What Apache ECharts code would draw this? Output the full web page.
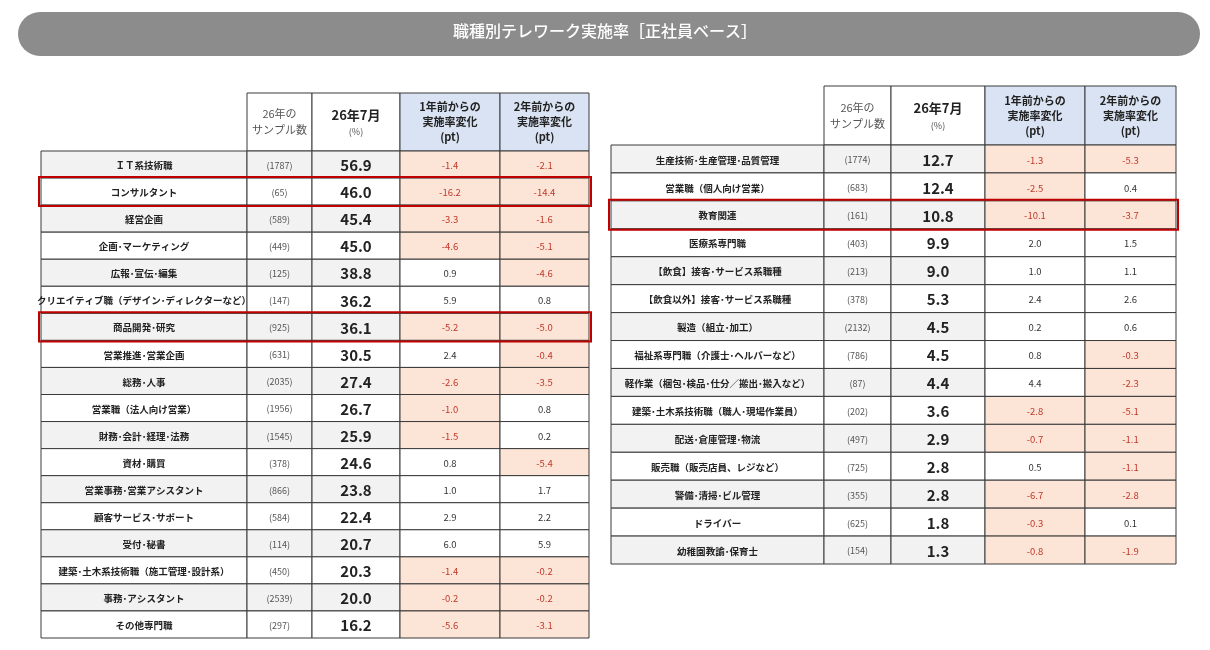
<!DOCTYPE html>
<html>
<head>
<meta charset="utf-8">
<script src="https://cdn.jsdelivr.net/npm/echarts@6.0.0/dist/echarts.min.js"></script>
<style>
html, body { margin: 0; padding: 0; background: #fff; }
#chart { width: 1210px; height: 650px; }
</style>
</head>
<body>
<div id="chart"></div>
<script>
const titleText = '職種別テレワーク実施率［正社員ベース］'
const headerLabels = ['', '26年の\nサンプル数', '26年7月', '1年前からの\n実施率変化\n(pt)', '2年前からの\n実施率変化\n(pt)']

const leftNames = ['ＩＴ系技術職', 'コンサルタント', '経営企画', '企画・マーケティング', '広報・宣伝・編集',
    'クリエイティブ職（デザイン・ディレクターなど）', '商品開発・研究', '営業推進・営業企画', '総務・人事',
    '営業職（法人向け営業）', '財務・会計・経理・法務', '資材・購買', '営業事務・営業アシスタント',
    '顧客サービス・サポート', '受付・秘書', '建築・土木系技術職（施工管理・設計系）', '事務・アシスタント', 'その他専門職']
const leftSamples = [1787, 65, 589, 449, 125, 147, 925, 631, 2035, 1956, 1545, 378, 866, 584, 114, 450, 2539, 297]
const leftRates = [56.9, 46.0, 45.4, 45.0, 38.8, 36.2, 36.1, 30.5, 27.4, 26.7, 25.9, 24.6, 23.8, 22.4, 20.7, 20.3, 20.0, 16.2]
const leftChange1 = [-1.4, -16.2, -3.3, -4.6, 0.9, 5.9, -5.2, 2.4, -2.6, -1.0, -1.5, 0.8, 1.0, 2.9, 6.0, -1.4, -0.2, -5.6]
const leftChange2 = [-2.1, -14.4, -1.6, -5.1, -4.6, 0.8, -5.0, -0.4, -3.5, 0.8, 0.2, -5.4, 1.7, 2.2, 5.9, -0.2, -0.2, -3.1]
const leftHighlight = [1, 6]

const rightNames = ['生産技術・生産管理・品質管理', '営業職（個人向け営業）', '教育関連', '医療系専門職',
    '【飲食】接客・サービス系職種', '【飲食以外】接客・サービス系職種', '製造（組立・加工）',
    '福祉系専門職（介護士・ヘルパーなど）', '軽作業（梱包・検品・仕分／搬出・搬入など）',
    '建築・土木系技術職（職人・現場作業員）', '配送・倉庫管理・物流', '販売職（販売店員、レジなど）',
    '警備・清掃・ビル管理', 'ドライバー', '幼稚園教諭・保育士']
const rightSamples = [1774, 683, 161, 403, 213, 378, 2132, 786, 87, 202, 497, 725, 355, 625, 154]
const rightRates = [12.7, 12.4, 10.8, 9.9, 9.0, 5.3, 4.5, 4.5, 4.4, 3.6, 2.9, 2.8, 2.8, 1.8, 1.3]
const rightChange1 = [-1.3, -2.5, -10.1, 2.0, 1.0, 2.4, 0.2, 0.8, 4.4, -2.8, -0.7, 0.5, -6.7, -0.3, -0.8]
const rightChange2 = [-5.3, 0.4, -3.7, 1.5, 1.1, 2.6, 0.6, -0.3, -2.3, -5.1, -1.1, -1.1, -2.8, 0.1, -1.9]
const rightHighlight = [2]

const FONT = '"Noto Sans CJK JP", sans-serif'
const BORDER = '#3a3a3a'

let chartDom = document.getElementById('chart')
let myChart = echarts.init(chartDom)

// table layouts (pixels), column edges relative to table left
const tables = [
    {left: 41, headTop: 93, headH: 58, bodyH: 487, edges: [0, 206, 271, 359, 459, 548],
        names: leftNames, samples: leftSamples, rates: leftRates, c1: leftChange1, c2: leftChange2, hl: leftHighlight},
    {left: 611, headTop: 86, headH: 59, bodyH: 419, edges: [0, 213, 280, 374, 474, 565],
        names: rightNames, samples: rightSamples, rates: rightRates, c1: rightChange1, c2: rightChange2, hl: rightHighlight}
]

let grids = [], xAxes = [], yAxes = [], series = []

tables.forEach((t, ti) => {
    let w = t.edges[t.edges.length - 1]
    let n = t.names.length
    grids.push({left: t.left, top: t.headTop, width: w, height: t.headH})
    grids.push({left: t.left, top: t.headTop + t.headH, width: w, height: t.bodyH})
    for (let g = 0; g < 2; g++) {
        xAxes.push({type: 'value', gridIndex: ti * 2 + g, min: 0, max: w, show: false})
        yAxes.push({type: 'category', gridIndex: ti * 2 + g, inverse: true, show: false,
            data: g === 0 ? ['h'] : t.names.map((_, i) => i)})
    }
    let edges = t.edges

    // header
    series.push({
        type: 'custom', xAxisIndex: ti * 2, yAxisIndex: ti * 2, silent: true,
        data: [[1, 0], [2, 0], [3, 0], [4, 0]],
        renderItem: function (params, api) {
            let col = api.value(0)
            let p0 = api.coord([edges[col], 0])
            let p1 = api.coord([edges[col + 1], 0])
            let h = api.size([0, 1])[1]
            let x = p0[0], y = p0[1] - h / 2, cw = p1[0] - p0[0]
            let textStyle
            if (col === 1) {
                textStyle = {text: headerLabels[col], fill: '#555', font: '11px ' + FONT, lineHeight: 16}
            } else if (col === 2) {
                textStyle = {text: '{a|' + headerLabels[col] + '}\n{b|(%)}',
                    rich: {a: {font: 'bold 13px ' + FONT, fill: '#222', lineHeight: 20},
                        b: {font: '9px ' + FONT, fill: '#555', lineHeight: 14}}}
            } else {
                textStyle = {text: headerLabels[col], fill: '#222', font: 'bold 11px ' + FONT, lineHeight: 15}
            }
            return {type: 'group', children: [
                {type: 'rect', shape: {x: x, y: y, width: cw, height: h},
                    style: {fill: col >= 3 ? '#dae3f3' : '#fff', stroke: BORDER, lineWidth: 1}},
                {type: 'text', style: Object.assign({x: x + cw / 2, y: y + h / 2, align: 'center', verticalAlign: 'middle'}, textStyle)}
            ]}
        }
    })

    // body cells
    let cells = []
    for (let r = 0; r < n; r++) {
        for (let c = 0; c < 5; c++) cells.push([c, r])
    }
    series.push({
        type: 'custom', xAxisIndex: ti * 2 + 1, yAxisIndex: ti * 2 + 1, silent: true,
        data: cells,
        renderItem: function (params, api) {
            let col = api.value(0), row = api.value(1)
            let p0 = api.coord([edges[col], row])
            let p1 = api.coord([edges[col + 1], row])
            let h = api.size([0, 1])[1]
            let x = p0[0], y = p0[1] - h / 2, cw = p1[0] - p0[0]
            let fill = row % 2 === 0 ? '#f2f2f2' : '#fff'
            let text, color = '#222', font
            if (col === 0) {
                // narrow middle dot like the original
                text = t.names[row].replace(/・/g, '･')
                font = 'bold 9.5px ' + FONT
            } else if (col === 1) {
                text = '(' + t.samples[row] + ')'
                color = '#555'
                font = '9px ' + FONT
            } else if (col === 2) {
                text = t.rates[row].toFixed(1)
                font = 'bold 15px ' + FONT
            } else {
                let v = col === 3 ? t.c1[row] : t.c2[row]
                text = v.toFixed(1)
                font = '9.5px ' + FONT
                if (v < 0) {
                    fill = '#fce4d6'
                    color = '#c0392b'
                } else {
                    fill = '#fff'
                    color = '#333'
                }
            }
            return {type: 'group', children: [
                {type: 'rect', shape: {x: x, y: y, width: cw, height: h},
                    style: {fill: fill, stroke: BORDER, lineWidth: 1}},
                {type: 'text', style: {text: text, x: x + cw / 2, y: y + h / 2 + 1, align: 'center',
                        verticalAlign: 'middle', fill: color, font: font}}
            ]}
        }
    })

    // red highlight frames
    series.push({
        type: 'custom', xAxisIndex: ti * 2 + 1, yAxisIndex: ti * 2 + 1, silent: true, z: 5,
        data: t.hl.map(r => [0, r]),
        renderItem: function (params, api) {
            let row = api.value(1)
            let p0 = api.coord([0, row])
            let p1 = api.coord([w, row])
            let h = api.size([0, 1])[1]
            return {type: 'rect', shape: {x: p0[0] - 2, y: p0[1] - h / 2 - 1, width: p1[0] - p0[0] + 4, height: h + 2},
                style: {fill: 'none', stroke: '#c00000', lineWidth: 2}}
        }
    })
})

myChart.setOption({
    animation: false,
    graphic: [
        {type: 'rect', left: 18, top: 12, shape: {width: 1182, height: 44, r: 22}, style: {fill: '#8c8c8c'}},
        {type: 'text', left: 'center', top: 23, style: {text: titleText, fill: '#fff', font: '500 16px ' + FONT}}
    ],
    grid: grids,
    xAxis: xAxes,
    yAxis: yAxes,
    series: series
})

window.addEventListener('resize', () => {
    myChart.resize()
})
</script>
</body>
</html>
